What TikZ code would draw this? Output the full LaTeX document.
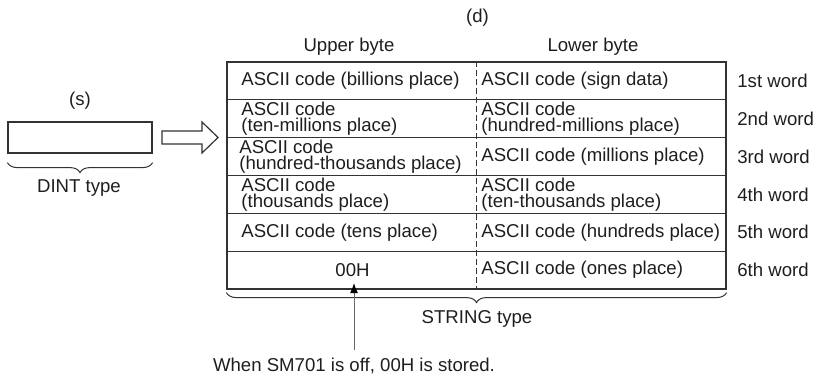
\documentclass[tikz,border=0pt]{standalone}
\usepackage{fontspec}
\setmainfont{Liberation Sans}
\usetikzlibrary{positioning,arrows.meta,decorations.pathreplacing}
\definecolor{inkline}{HTML}{333333}
\definecolor{inktext}{HTML}{1E1E1E}
\definecolor{inkgray}{HTML}{666666}

\tikzset{
    lbl/.style={font=\fontsize{9.3}{11}\selectfont, text=inktext, inner sep=0pt},
    cell/.style={lbl, anchor=west, align=left, font=\fontsize{9.3}{8.2}\selectfont},
    bracebelow/.style={draw=inkline, line width=0.5pt,
        decorate, decoration={brace, mirror, amplitude=5pt}},
}

\begin{document}
\begin{tikzpicture}[x=0.5pt, y=-0.5pt]
    \useasboundingbox (0,0) rectangle (815,378);

    % source side
    \node[draw=inkline, line width=0.6pt, minimum width=72pt, minimum height=15.5pt,
          inner sep=0pt] (sbox) at (80,137.5) {};
    \node[lbl] (slbl) at (80,101) {(s)};
    \draw[bracebelow] ([yshift=-4.5pt]sbox.south west) -- ([yshift=-4.5pt]sbox.south east);
    \node[lbl] (dint) at (79,188) {DINT type};

    % conversion arrow
    \draw[draw=inkline, fill=white, line width=0.6pt]
        (162,131) -- (202,131) -- (202,122) -- (218,137.5) -- (202,153)
        -- (202,144) -- (162,144) -- cycle;

    % destination table
    \node[draw=inkline, line width=0.6pt, minimum width=249.5pt, minimum height=113.5pt,
          inner sep=0pt] (tbl) at (476.5,175.5) {};
    \foreach \r in {1,...,5} {
        \draw[inkline, line width=0.6pt] (227,62+37.83*\r) -- (726,62+37.83*\r);
    }
    \draw[inkline, line width=0.5pt, dash pattern=on 3pt off 1.5pt] (tbl.north) -- (tbl.south);

    \node[lbl] (dlbl) at (477.5,18) {(d)};
    \node[lbl] (upper) at (349,47) {Upper byte};
    \node[lbl] (lower) at (593,47) {Lower byte};

    % upper byte column
    \node[cell] (u1) at (241,80.9) {ASCII code (billions place)};
    \node[cell] (u2) at (241,118.8) {ASCII code\\(ten-millions place)};
    \node[cell] (u3) at (239,156.6) {ASCII code\\(hundred-thousands place)};
    \node[cell] (u4) at (241,194.4) {ASCII code\\(thousands place)};
    \node[cell] (u5) at (241,232.2) {ASCII code (tens place)};
    \node[lbl] (ooh) at (352.5,270.1) {00H};

    % lower byte column
    \node[cell] (l1) at (481,80.9) {ASCII code (sign data)};
    \node[cell] (l2) at (481,118.8) {ASCII code\\(hundred-millions place)};
    \node[cell] (l3) at (481,156.6) {ASCII code (millions place)};
    \node[cell] (l4) at (481,194.4) {ASCII code\\(ten-thousands place)};
    \node[cell] (l5) at (481,232.2) {ASCII code (hundreds place)};
    \node[cell] (l6) at (481,270.1) {ASCII code (ones place)};

    % word numbers
    \foreach \w [count=\i] in {1st,2nd,3rd,4th,5th,6th} {
        \node[lbl, anchor=west] (w\i) at (737,62+37.83*\i-18.9) {\w{} word};
    }

    \draw[bracebelow] ([yshift=-1.5pt]tbl.south west) -- ([yshift=-1.5pt]tbl.south east);
    \node[lbl] (strtype) at (477,319) {STRING type};

    % note
    \node[lbl] (note) at (354,366) {When SM701 is off, 00H is stored.};
    \draw[inkgray, line width=0.5pt, -{Latex[length=5pt, width=4pt, color=black]},
          shorten <=4pt, shorten >=3pt] (note.north) -- (note.north |- ooh.south);
\end{tikzpicture}
\end{document}
